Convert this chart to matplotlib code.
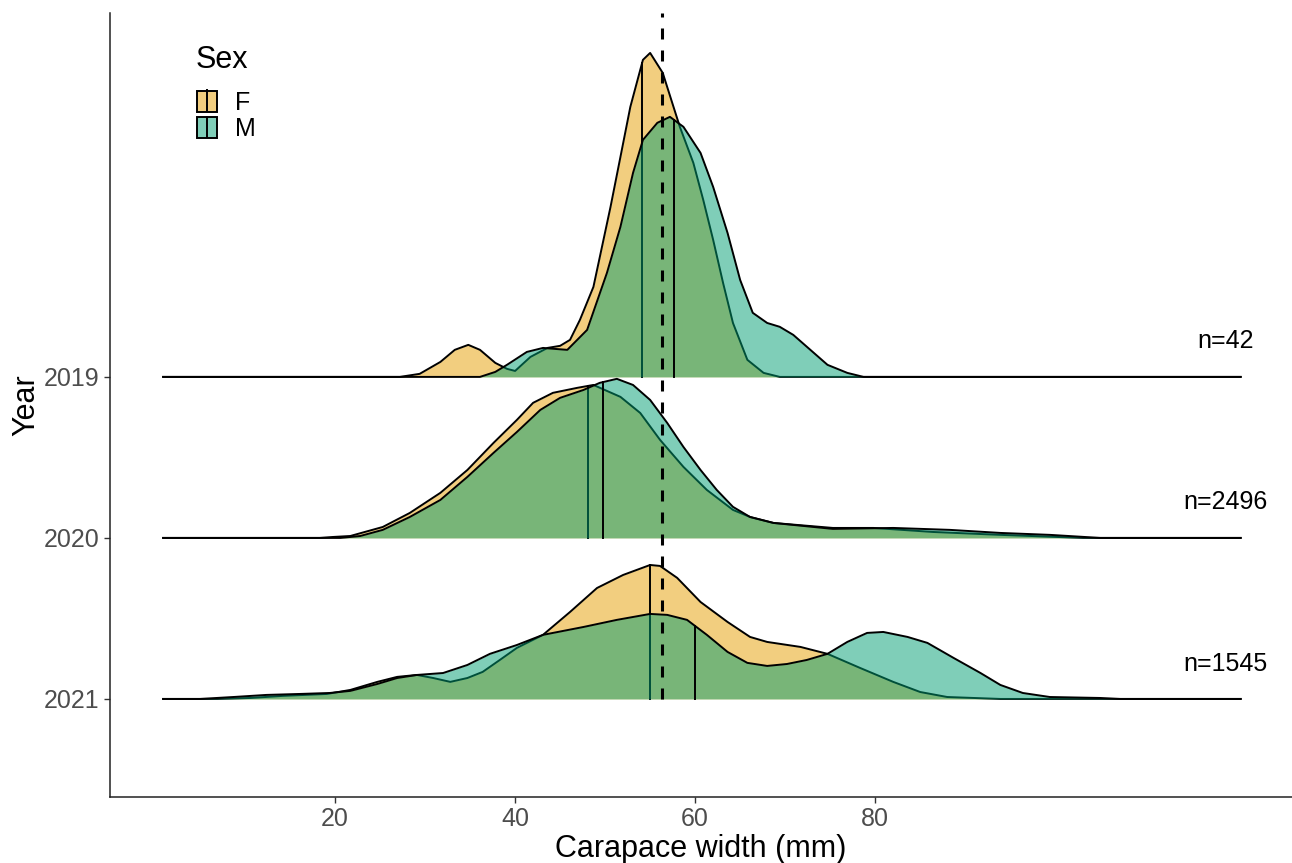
import matplotlib.pyplot as plt
import numpy as np
from matplotlib.patches import Patch
from matplotlib.lines import Line2D
from matplotlib.legend_handler import HandlerTuple
from matplotlib.colors import to_rgba

plt.rcParams['font.family'] = ['Liberation Sans', 'DejaVu Sans']

years = ['2019', '2020', '2021']
counts = [42, 2496, 1545]
sexes = ['F', 'M']
fill_colors = {'F': '#E69F00', 'M': '#009E73'}

# scaled densities (x in mm, height in ridge units)
f2019_x = [27.2, 29.4, 31.7, 33.3, 34.8, 36.1, 37.8, 39.1, 40.0, 41.7, 43.6, 45.0, 46.1, 47.2, 48.7,
           50.6, 51.7, 52.8, 54.2, 55.0, 56.4, 58.3, 59.8, 60.9, 62.0, 63.1, 64.2, 65.8, 67.6, 69.4]
f2019_h = [0, 0.019, 0.093, 0.168, 0.199, 0.168, 0.087, 0.050, 0.037, 0.124, 0.180, 0.193, 0.230, 0.354, 0.559,
           1.056, 1.366, 1.677, 1.969, 2.012, 1.888, 1.553, 1.329, 1.099, 0.851, 0.584, 0.335, 0.106, 0.025, 0]
m2019_x = [36.1, 37.8, 39.1, 41.3, 43.1, 44.4, 45.8, 48.0, 50.2, 51.7, 53.1, 54.2, 55.8, 57.2, 58.7,
           60.6, 62.0, 63.6, 65.0, 66.4, 68.0, 69.4, 70.9, 72.8, 74.7, 76.9, 78.7]
m2019_h = [0, 0.031, 0.075, 0.155, 0.180, 0.174, 0.168, 0.292, 0.646, 0.932, 1.267, 1.472, 1.578, 1.615, 1.553,
           1.391, 1.180, 0.894, 0.602, 0.398, 0.335, 0.311, 0.261, 0.168, 0.075, 0.025, 0]

f2020_x = [18.3, 19.8, 21.7, 25.3, 28.3, 31.7, 34.7, 37.6, 40.2, 42.0, 44.2, 46.9, 48.7, 51.7, 53.9,
           56.1, 58.7, 61.3, 64.2, 66.1, 68.7, 75.3, 79.8, 86.4, 93.9, 103.1]
f2020_h = [0, 0.006, 0.012, 0.068, 0.155, 0.280, 0.422, 0.590, 0.733, 0.839, 0.901, 0.932, 0.950, 0.876, 0.776,
           0.609, 0.441, 0.298, 0.174, 0.130, 0.093, 0.062, 0.062, 0.037, 0.019, 0]
m2020_x = [20.6, 22.8, 25.3, 28.3, 31.7, 34.7, 37.6, 40.2, 42.8, 45.0, 47.6, 49.4, 51.3, 53.1, 55.0,
           56.9, 58.7, 60.6, 62.4, 64.2, 66.1, 68.7, 75.3, 82.0, 88.3, 93.9, 99.4, 105.0]
m2020_h = [0, 0.012, 0.050, 0.130, 0.236, 0.379, 0.528, 0.658, 0.795, 0.870, 0.919, 0.963, 0.988, 0.950, 0.857,
           0.714, 0.565, 0.422, 0.298, 0.193, 0.130, 0.093, 0.056, 0.062, 0.050, 0.031, 0.019, 0]

f2021_x = [6.9, 10.6, 14.2, 19.1, 21.7, 24.7, 26.9, 29.1, 30.9, 32.8, 34.7, 36.4, 38.3, 40.2, 43.1,
           46.1, 49.1, 52.0, 55.0, 56.1, 58.0, 60.6, 63.6, 66.1, 68.0, 71.7, 74.7, 78.3, 82.0, 85.0, 88.0, 93.9]
f2021_h = [0, 0.006, 0.019, 0.031, 0.056, 0.106, 0.137, 0.149, 0.130, 0.106, 0.130, 0.168, 0.242, 0.317, 0.398,
           0.540, 0.689, 0.770, 0.832, 0.826, 0.752, 0.602, 0.478, 0.385, 0.354, 0.323, 0.280, 0.193, 0.106, 0.043,
           0.012, 0]
m2021_x = [5.0, 8.7, 12.4, 16.1, 19.4, 21.7, 24.7, 26.9, 29.1, 32.0, 34.7, 37.2, 40.2, 43.1, 47.6,
           51.3, 55.0, 56.9, 59.1, 61.3, 63.6, 65.8, 68.0, 70.2, 72.4, 74.7, 76.9, 79.1, 80.9, 83.6, 85.8,
           88.7, 91.7, 93.9, 96.4, 99.4, 105.0, 107.2]
m2021_h = [0, 0.012, 0.025, 0.031, 0.037, 0.050, 0.093, 0.130, 0.149, 0.161, 0.211, 0.280, 0.335, 0.398, 0.447,
           0.491, 0.528, 0.522, 0.491, 0.398, 0.292, 0.224, 0.205, 0.217, 0.242, 0.280, 0.354, 0.410, 0.416,
           0.385, 0.348, 0.255, 0.161, 0.087, 0.037, 0.012, 0.006, 0]

medians = {
    ('2019', 'F'): 54.1, ('2019', 'M'): 57.7,
    ('2020', 'F'): 48.1, ('2020', 'M'): 49.8,
    ('2021', 'F'): 55.0, ('2021', 'M'): 60.0,
}
overall_mean = 56.3
data_range = (0.9, 120.6)

ridges = {
    ('2019', 'F'): (f2019_x, f2019_h), ('2019', 'M'): (m2019_x, m2019_h),
    ('2020', 'F'): (f2020_x, f2020_h), ('2020', 'M'): (m2020_x, m2020_h),
    ('2021', 'F'): (f2021_x, f2021_h), ('2021', 'M'): (m2021_x, m2021_h),
}

fig = plt.figure(figsize=(12.92, 8.63), dpi=100)
ax = fig.add_axes([110 / 1292, 66 / 863, 1 - 110 / 1292, 784 / 863])

lw = 1.4
z = 1
for i, year in enumerate(years):
    base = len(years) - 1 - i
    for sex in sexes:
        xs, hs = ridges[(year, sex)]
        x = np.array([data_range[0]] + xs + [data_range[1]])
        h = np.array([0] + hs + [0])
        ax.fill_between(x, base, base + h, color=fill_colors[sex], alpha=0.5, lw=0, zorder=z)
        ax.plot(x, base + h, color='black', lw=lw, zorder=z + 1, solid_joinstyle='round')
        med = medians[(year, sex)]
        ax.plot([med, med], [base, base + np.interp(med, x, h)], color='black', lw=lw, zorder=z + 1)
        z += 2
    ax.text(118.9, base + 0.22, f'n={counts[i]}', fontsize=18, ha='center', va='center', zorder=z)

ax.set_xlim(-5.0, 126.3)
ax.set_ylim(-0.609, 4.26)
ax.vlines(overall_mean, 0, 4.26, colors='black', lw=2.2, linestyles=(0, (3.6, 3.6)), zorder=z + 1)

ax.set_xticks([20, 40, 60, 80])
ax.set_yticks([2, 1, 0])
ax.set_yticklabels(years)
ax.tick_params(labelsize=18, labelcolor='#4D4D4D', color='#333333', length=4, width=1)
for side in ['top', 'right']:
    ax.spines[side].set_visible(False)
for side in ['left', 'bottom']:
    ax.spines[side].set_color('#222222')
    ax.spines[side].set_linewidth(1.1)
ax.set_xlabel('Carapace width (mm)', fontsize=22, labelpad=2)
ax.set_ylabel('Year', fontsize=22, labelpad=1.5)

# legend
fig.text(196 / 1292, 1 - 60 / 863, 'Sex', fontsize=22, ha='left', va='center')
handles = [(Patch(facecolor=to_rgba(fill_colors[s], 0.5), edgecolor='black', lw=lw),
            Line2D([], [], marker='|', ls='none', color='black', markersize=16, mew=lw)) for s in sexes]
ax.legend(handles, sexes, handler_map={tuple: HandlerTuple(ndivide=1)},
          loc='upper left', bbox_to_anchor=(197 / 1292, 1 - 91 / 863), bbox_transform=fig.transFigure,
          frameon=False, fontsize=18, handlelength=0.8, handleheight=0.9,
          handletextpad=0.7, labelspacing=0.1, borderpad=0, borderaxespad=0)

fig.savefig('out.png', dpi=100)
